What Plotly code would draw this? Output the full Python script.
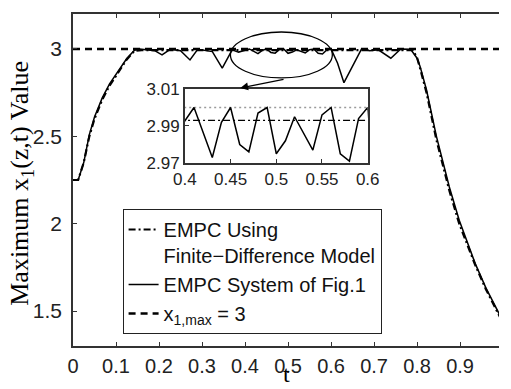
import plotly.graph_objects as go

# ---------------- data ----------------
t_sys = [0.0, 0.012, 0.025, 0.038, 0.05, 0.068, 0.085, 0.106, 0.125, 0.143, 0.155,
         0.17, 0.19, 0.207, 0.226, 0.25, 0.272, 0.29, 0.31, 0.324, 0.347, 0.37, 0.385,
         0.40, 0.41, 0.43, 0.44, 0.45, 0.46, 0.47, 0.48, 0.49, 0.50, 0.51, 0.52, 0.54,
         0.55, 0.56, 0.57, 0.58, 0.59, 0.60, 0.615, 0.63, 0.671, 0.69, 0.71, 0.739,
         0.762, 0.785, 0.80, 0.807, 0.822, 0.845, 0.875, 0.898, 0.935, 0.96, 0.99, 1.0]
x_sys = [2.25, 2.25, 2.35, 2.51, 2.61, 2.72, 2.80, 2.875, 2.945, 2.993, 3.0,
         2.995, 2.99, 2.966, 2.998, 2.99, 2.937, 2.998, 2.99, 2.985, 2.89, 2.995, 2.982,
         2.993, 3.0, 2.973, 2.992, 3.0, 2.980, 2.976, 2.997, 3.0, 2.975, 2.982, 2.995, 2.977,
         2.996, 3.0, 2.975, 2.971, 2.994, 3.0, 2.92, 2.807, 3.0, 2.99, 2.995, 2.947,
         3.0, 2.998, 2.947, 2.90, 2.765, 2.50, 2.21, 2.02, 1.773, 1.633, 1.487, 1.44]

t_fd = [0.0, 0.012, 0.025, 0.038, 0.05, 0.068, 0.085, 0.106, 0.125, 0.143, 0.16,
        0.79, 0.80, 0.807, 0.822, 0.845, 0.875, 0.898, 0.935, 0.96, 0.99, 1.0]
x_fd = [2.25, 2.25, 2.35, 2.50, 2.60, 2.71, 2.79, 2.87, 2.94, 2.99, 2.993,
        2.993, 2.95, 2.89, 2.75, 2.48, 2.19, 2.0, 1.765, 1.625, 1.478, 1.43]

t_max = [0.0, 1.0]
x_max = [3.0, 3.0]

x_ticks = [0, 0.1, 0.2, 0.3, 0.4, 0.5, 0.6, 0.7, 0.8, 0.9, 1.0]
x_tick_labels = ["0", "0.1", "0.2", "0.3", "0.4", "0.5", "0.6", "0.7", "0.8", "0.9", "1"]
y_ticks = [1.5, 2.0, 2.5, 3.0]
y_tick_labels = ["1.5", "2", "2.5", "3"]

inset_x_ticks = [0.4, 0.45, 0.5, 0.55, 0.6]
inset_x_tick_labels = ["0.4", "0.45", "0.5", "0.55", "0.6"]
inset_y_ticks = [2.97, 2.99, 3.01]
inset_y_tick_labels = ["2.97", "2.99", "3.01"]

# ---------------- figure ----------------
SANS = "Liberation Sans, Arial, sans-serif"
SERIF = "Liberation Serif, Times New Roman, serif"

fig = go.Figure()

fig.add_trace(go.Scatter(x=t_fd, y=x_fd, mode="lines",
                         name="EMPC Using<br>Finite\u2212Difference Model",
                         line=dict(color="black", width=2.2, dash="7px,3px,2px,3px")))
fig.add_trace(go.Scatter(x=t_sys, y=x_sys, mode="lines",
                         name="EMPC System of Fig.1",
                         line=dict(color="black", width=1.5)))
fig.add_trace(go.Scatter(x=t_max, y=x_max, mode="lines",
                         name="x<sub>1,max</sub> = 3",
                         line=dict(color="black", width=2.5, dash="7px,5px")))

# inset traces
fig.add_trace(go.Scatter(x=t_max, y=x_max, mode="lines", xaxis="x2", yaxis="y2",
                         showlegend=False,
                         line=dict(color="#9a9a9a", width=1.5, dash="2px,3px")))
fig.add_trace(go.Scatter(x=t_fd, y=x_fd, mode="lines", xaxis="x2", yaxis="y2",
                         showlegend=False,
                         line=dict(color="black", width=1.2, dash="7px,3px,2px,3px")))
fig.add_trace(go.Scatter(x=t_sys, y=x_sys, mode="lines", xaxis="x2", yaxis="y2",
                         showlegend=False,
                         line=dict(color="black", width=1.5)))

axis_common = dict(showgrid=False, zeroline=False, showline=True,
                   linecolor="#333", linewidth=1.5, ticks="inside",
                   ticklen=4, tickcolor="#333", tickwidth=1)

fig.update_layout(
    width=511, height=389,
    margin=dict(l=73, r=0, t=14, b=43),
    paper_bgcolor="white", plot_bgcolor="white",
    showlegend=True,
    xaxis=dict(range=[0, 0.9905], tickvals=x_ticks, ticktext=x_tick_labels,
               mirror="ticks", domain=[0, 1], ticklabelstandoff=1,
               tickfont=dict(family=SANS, size=20, color="#222"),
               **axis_common),
    yaxis=dict(range=[1.3, 3.2], tickvals=y_ticks, ticktext=y_tick_labels,
               mirror=False, domain=[0, 1],
               tickfont=dict(family=SANS, size=21, color="#222"),
               ticklabelstandoff=5,
               **axis_common),
    xaxis2=dict(range=[0.4, 0.6], tickvals=inset_x_ticks, ticktext=inset_x_tick_labels,
                domain=[0.2626, 0.6918], anchor="y2", mirror=True,
                tickfont=dict(family=SANS, size=17, color="#222"),
                **axis_common),
    yaxis2=dict(range=[2.97, 3.01], tickvals=inset_y_ticks, ticktext=inset_y_tick_labels,
                domain=[0.5512, 0.7741], anchor="x2", mirror=True,
                tickfont=dict(family=SANS, size=17, color="#222"),
                **axis_common),
    legend=dict(x=0.1164, y=0.4127, xanchor="left", yanchor="top",
                bgcolor="white", bordercolor="#222", borderwidth=1,
                font=dict(family=SANS, size=20, color="#111"),
                valign="top", tracegroupgap=0),
    shapes=[dict(type="circle", xref="x", yref="y",
                 x0=0.366, x1=0.603, y0=2.834, y1=3.097,
                 line=dict(color="black", width=1.3))],
    annotations=[
        dict(x=0.389, y=2.777, xref="x", yref="y",
             ax=0.493, ay=2.828, axref="x", ayref="y",
             showarrow=True, arrowhead=2, arrowsize=1.2, arrowwidth=1.3,
             arrowcolor="black", text=""),
        dict(text="t", x=0.5, y=-0.1295, xref="paper", yref="paper",
             xanchor="center", yanchor="bottom", showarrow=False,
             font=dict(family=SERIF, size=24, color="black")),
        dict(text="Maximum x<sub>1</sub>(z,t) Value", textangle=-90,
             x=-0.1210, y=0.49, xref="paper", yref="paper",
             xanchor="center", yanchor="middle", showarrow=False,
             font=dict(family=SERIF, size=26, color="black")),
    ],
)

fig.write_html("out.html")
